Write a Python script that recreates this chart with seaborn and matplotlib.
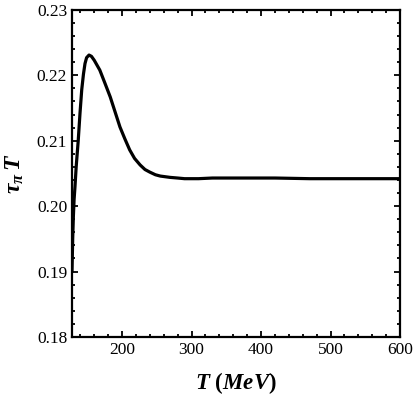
import numpy as np
import pandas as pd
import seaborn as sns
import matplotlib.pyplot as plt
from matplotlib.ticker import MultipleLocator

# values
T = [128, 129, 130, 131, 132.3, 134, 137, 139.5, 142, 144.5, 146.7, 149, 152.5, 156,
     160, 168, 175, 183, 190, 197, 204, 211, 218, 226, 233, 240, 248, 255, 262, 269,
     280, 290, 310, 330, 370, 420, 470, 520, 560, 600]
tau_T = [0.1900, 0.1950, 0.1985, 0.2010, 0.2030, 0.2060, 0.2101, 0.2142, 0.2178, 0.2202,
         0.2218, 0.2227, 0.2231, 0.2229, 0.2223, 0.2208, 0.2189, 0.2167, 0.2144, 0.2121,
         0.2103, 0.2086, 0.2073, 0.2063, 0.2056, 0.2052, 0.2048, 0.2046, 0.2045, 0.2044,
         0.2043, 0.2042, 0.2042, 0.2043, 0.2043, 0.2043, 0.2042, 0.2042, 0.2042, 0.2042]

df = pd.DataFrame({"T": T, "tau_T": tau_T})

sns.set_style("ticks", {"axes.edgecolor": "black", "text.color": "black",
                        "axes.labelcolor": "black", "xtick.color": "black",
                        "ytick.color": "black"})
plt.rcParams['font.family'] = ['Liberation Serif', 'DejaVu Serif']
plt.rcParams['mathtext.fontset'] = 'custom'
plt.rcParams['mathtext.it'] = 'Liberation Serif:italic:bold'
plt.rcParams['mathtext.rm'] = 'Liberation Serif:bold'
plt.rcParams['mathtext.bf'] = 'Liberation Serif:italic:bold'

fig = plt.figure(figsize=(4.15, 3.96), dpi=100)
ax = fig.add_axes([0.1735, 0.149, 0.7905, 0.826])

sns.lineplot(data=df, x="T", y="tau_T", color="black", linewidth=2.3, ax=ax)

ax.set_xlim(128, 600)
ax.set_ylim(0.18, 0.23)
ax.xaxis.set_major_locator(MultipleLocator(100))
ax.xaxis.set_minor_locator(MultipleLocator(20))
ax.yaxis.set_major_locator(MultipleLocator(0.01))
ax.yaxis.set_minor_locator(MultipleLocator(0.002))
ax.yaxis.set_major_formatter(plt.FormatStrFormatter('%.2f'))

ax.tick_params(which='both', direction='in', top=True, right=True, width=1.3,
               color='black', labelcolor='black')
ax.tick_params(which='major', length=4, labelsize=12.5)
ax.tick_params(which='minor', length=2)
for s in ax.spines.values():
    s.set_linewidth(1.6)
    s.set_color('black')

ax.set_xlabel(r'$T\ (MeV)$', fontsize=16.5, labelpad=9, color='black')
ax.set_ylabel(r'$\tau_\pi\,T$', fontsize=17, labelpad=8, color='black')

fig.savefig("out.png", dpi=100)
